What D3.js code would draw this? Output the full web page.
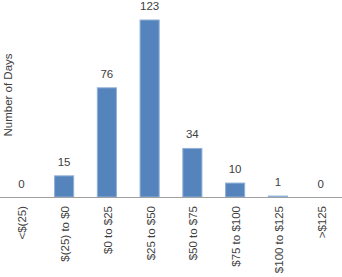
<!DOCTYPE html>
<head>
  <script src="https://cdn.jsdelivr.net/npm/d3@7"></script>
  <title>Days by P&amp;L bucket</title>
  <style>
    body { margin: 0; background: #fff; }
    text { font-family: "Liberation Sans", Arial, sans-serif; fill: #404040; }
  </style>
</head>
<body>
<div id="chart"></div>
<script>
  // buckets and day counts
  const buckets = ["<$(25)", "$(25) to $0", "$0 to $25", "$25 to $50",
                   "$50 to $75", "$75 to $100", "$100 to $125", ">$125"];
  const days = [0, 15, 76, 123, 34, 10, 1, 0];
  const yLabel = "Number of Days";

  const width = 342, height = 277;
  const baseY = 197;
  const svg = d3.select("#chart").append("svg")
      .attr("width", width).attr("height", height);

  const x = d3.scaleBand().domain(buckets).range([0, 342]).paddingInner(0.53).paddingOuter(0.265);
  const y = d3.scaleLinear().domain([0, 123]).range([baseY, 19.5]);

  svg.append("g")
    .selectAll("rect")
    .data(days)
    .join("rect")
      .attr("x", (d, i) => x(buckets[i]) + 0.5)
      .attr("width", x.bandwidth() - 1)
      .attr("y", d => y(d) + 0.5)
      .attr("height", d => Math.max(0, baseY - y(d) - 0.5))
      .attr("fill", "#5583bb")
      .attr("stroke", "#8fb0d8")
      .attr("stroke-width", 1);

  // value labels
  svg.append("g")
    .selectAll("text")
    .data(days)
    .join("text")
      .attr("x", (d, i) => x(buckets[i]) + x.bandwidth() / 2)
      .attr("y", d => y(d) - 9.5)
      .attr("text-anchor", "middle")
      .style("font-size", "11.5px")
      .text(d => d);

  // x axis: line plus rotated category labels
  const xAxis = svg.append("g")
      .attr("transform", `translate(0,${baseY})`)
      .call(d3.axisBottom(x).tickSize(0).tickPadding(0));
  xAxis.select(".domain").attr("stroke", "#a0a0a0").attr("d", `M0,0.5H${width}`);
  xAxis.selectAll("text")
      .attr("fill", "#404040")
      .style("font-size", "11.5px")
      .style("font-family", "'Liberation Sans', Arial, sans-serif")
      .attr("text-anchor", "end")
      .attr("dy", "0.35em")
      .attr("y", 0)
      .attr("transform", "translate(1,9) rotate(-90)");

  svg.append("text")
      .attr("transform", "translate(8,95) rotate(-90)")
      .attr("text-anchor", "middle")
      .attr("dy", "0.35em")
      .style("font-size", "11.5px")
      .text(yLabel);
</script>
</body>
